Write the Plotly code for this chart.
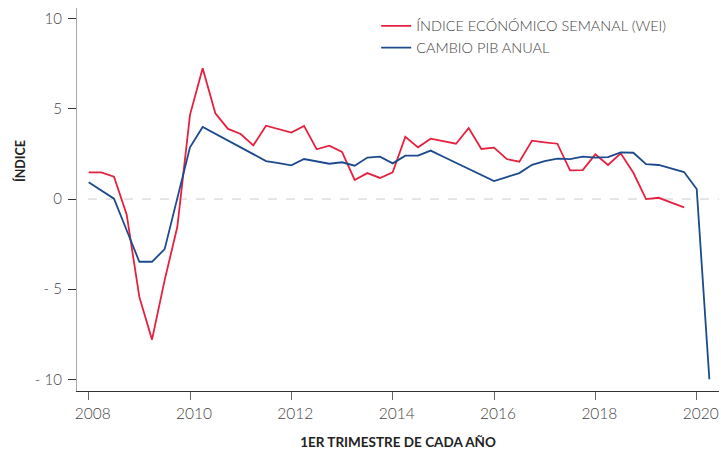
import plotly.graph_objects as go

# Quarterly dates (1st quarter of each year = integer year)
wei_x = [2008 + 0.25 * i for i in range(48)]  # 2008.00 .. 2019.75
wei_y = [1.48, 1.48, 1.24, -0.85, -5.43, -7.8, -4.5, -1.54,
         4.67, 7.26, 4.76, 3.89, 3.61, 2.98, 4.07, 3.88,
         3.69, 4.06, 2.76, 2.96, 2.62, 1.06, 1.44, 1.17,
         1.48, 3.46, 2.87, 3.35, 3.2, 3.07, 3.94, 2.78,
         2.85, 2.22, 2.07, 3.24, 3.15, 3.07, 1.59, 1.61,
         2.48, 1.89, 2.54, 1.46, 0.0, 0.07, -0.2, -0.46]

pib_x = [2008 + 0.25 * i for i in range(50)]  # 2008.00 .. 2020.25
pib_y = [0.93, 0.47, 0.02, -1.73, -3.48, -3.48, -2.78, 0.05,
         2.87, 4.0, 3.62, 3.25, 2.87, 2.49, 2.11, 1.99,
         1.87, 2.22, 2.09, 1.96, 2.04, 1.85, 2.3, 2.35,
         1.98, 2.41, 2.41, 2.69, 2.35, 2.01, 1.68, 1.34,
         1.0, 1.22, 1.44, 1.9, 2.1, 2.24, 2.22, 2.35,
         2.3, 2.33, 2.59, 2.57, 1.94, 1.89, 1.7, 1.5,
         0.56, -10.0]

x_ticks = [2008, 2010, 2012, 2014, 2016, 2018, 2020]
y_ticks = [-10, -5, 0, 5, 10]
y_ticktext = ["- 10", "- 5", "0", "5", "10"]

RED = "#e5213f"
BLUE = "#1c4a8c"
FONT = "Lato"

fig = go.Figure()
fig.add_trace(go.Scatter(x=wei_x, y=wei_y, mode="lines",
                         name="ÍNDICE ECÓNÓMICO SEMANAL (WEI)",
                         line=dict(color=RED, width=1.8)))
fig.add_trace(go.Scatter(x=pib_x, y=pib_y, mode="lines",
                         name="CAMBIO PIB ANUAL",
                         line=dict(color=BLUE, width=1.8)))

fig.add_shape(type="line", xref="paper", x0=0.017, x1=1, yref="y", y0=0, y1=0,
              line=dict(color="#cccccc", width=1, dash="dash"), layer="below")

fig.add_annotation(text="<b>ÍNDICE</b>", xref="paper", yref="paper",
                   x=-0.089, y=0.60, xanchor="center", yanchor="middle",
                   textangle=-90, showarrow=False,
                   font=dict(family=FONT, size=12.5, color="#222222"))

fig.update_layout(
    width=721, height=450,
    margin=dict(l=77, r=2, t=8, b=59),
    paper_bgcolor="white", plot_bgcolor="white",
    font=dict(family=FONT, size=14, color="#444444"),
    showlegend=True,
    legend=dict(x=0.466, y=0.995, xanchor="left", yanchor="top",
                bgcolor="rgba(0,0,0,0)", tracegroupgap=0,
                font=dict(family=FONT, size=14.5, color="#444444", weight=300)),
    xaxis=dict(range=[2007.77, 2020.44], tickvals=x_ticks,
               showgrid=False, zeroline=False,
               showline=True, linecolor="#333333", linewidth=1.2,
               ticks="outside", ticklen=8, tickcolor="#666666",
               ticklabelshift=4,
               tickfont=dict(family=FONT, size=15.5, color="#444444", weight=300),
               title=dict(text="<b>1ER TRIMESTRE DE CADA AÑO</b>",
                          font=dict(family=FONT, size=13.5, color="#222222"),
                          standoff=16)),
    yaxis=dict(range=[-10.65, 10.6], tickvals=y_ticks, ticktext=y_ticktext,
               showgrid=False, zeroline=False,
               showline=True, linecolor="#aaaaaa", linewidth=1.2,
               ticks="outside", ticklen=8, tickcolor="#333333",
               ticklabelstandoff=3,
               tickfont=dict(family=FONT, size=15, color="#444444", weight=300)),
)

fig.write_html("out.html", config={"displayModeBar": False},
               post_script="document.body.style.margin='0';document.body.style.overflow='hidden';")
